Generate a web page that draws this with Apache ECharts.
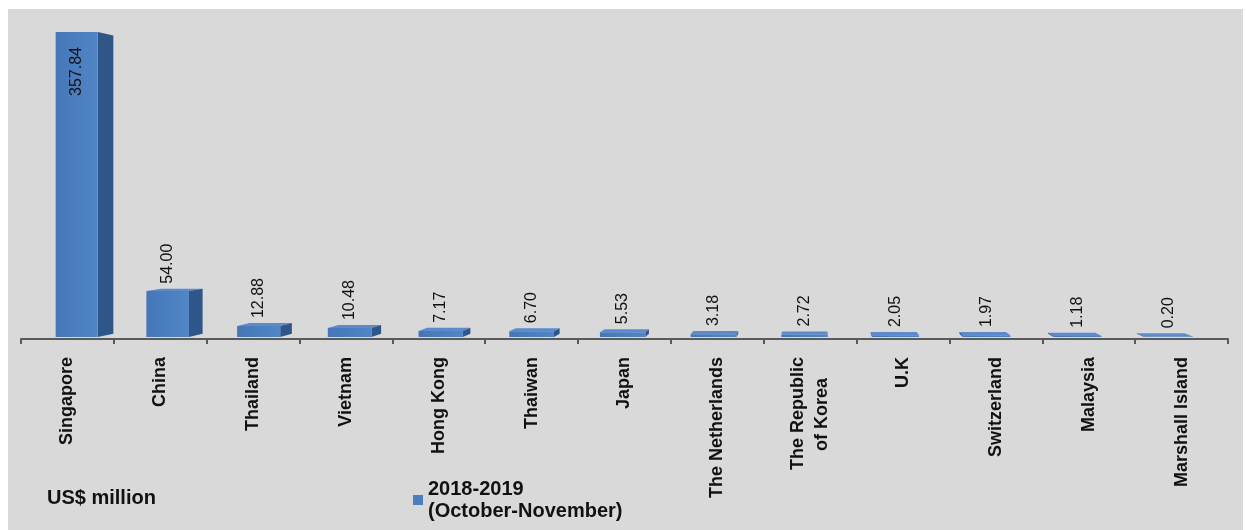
<!DOCTYPE html>
<html>
<head>
<meta charset="utf-8">
<script src="https://cdn.jsdelivr.net/npm/echarts@6/dist/echarts.min.js"></script>
<style>
  html, body { margin: 0; padding: 0; background: #ffffff; }
  #wrap { position: relative; width: 1246px; height: 530px; overflow: hidden; }
  #bg { position: absolute; left: 8px; top: 9px; width: 1235px; height: 521px; background: #d9d9d9; }
  #chart { position: absolute; left: 0; top: 0; width: 1246px; height: 530px; }
</style>
</head>
<body>
<div id="wrap"><div id="bg"></div><div id="chart"></div></div>
<script>
const categories = ['Singapore', 'China', 'Thailand', 'Vietnam', 'Hong Kong', 'Thaiwan', 'Japan',
  'The Netherlands', 'The Republic\nof Korea', 'U.K', 'Switzerland', 'Malaysia', 'Marshall Island'];
const values = [357.84, 54.00, 12.88, 10.48, 7.17, 6.70, 5.53, 3.18, 2.72, 2.05, 1.97, 1.18, 0.20];
const seriesName = '2018-2019\n(October-November)';
const unitLabel = 'US$ million';

const FONT = '"Liberation Sans", Arial, sans-serif';
const FRONT = '#4a7ebe', SIDE = '#2f5689', TOP = '#5b8bcc';

function renderItem(params, api) {
  const i = api.value(0), v = api.value(1);
  const p0 = api.coord([i, 0]), p1 = api.coord([i, v]);
  const c = p0[0];
  const cx = c + 0.02 * (530 - c);
  const w = 42 + 0.006 * (c - 67);
  const x0 = cx - w / 2, x1 = cx + w / 2;
  const yb = p0[1] - 2;
  const yt = Math.min(p1[1] - 2, yb - 0.5);
  const VX = 810, VY = 190, K = 0.022;
  const back = (x, y) => [x + K * (VX - x), y + K * (VY - y)];
  const fTL = [x0, yt], fTR = [x1, yt], fBL = [x0, yb], fBR = [x1, yb];
  const bTL = back(x0, yt), bTR = back(x1, yt), bBL = back(x0, yb), bBR = back(x1, yb);
  const children = [];
  if (yt > VY) children.push({ type: 'polygon', shape: { points: [fTL, fTR, bTR, bTL] }, style: { fill: TOP } });
  if (x1 < VX) children.push({ type: 'polygon', shape: { points: [fTR, fBR, bBR, bTR] }, style: { fill: SIDE } });
  if (x0 > VX) children.push({ type: 'polygon', shape: { points: [fTL, fBL, bBL, bTL] }, style: { fill: SIDE } });
  children.push({ type: 'rect', shape: { x: x0, y: yt, width: w, height: yb - yt },
    style: { fill: { type: 'linear', x: 0, y: 0, x2: 1, y2: 0,
      colorStops: [{ offset: 0, color: '#4577b8' }, { offset: 1, color: '#5085c6' }] } } });
  const inside = (yb - yt) > 80;
  const labelTop = Math.min(yt, bTL[1], bTR[1]);
  children.push({
    type: 'text', x: cx, y: inside ? yt + 15 : labelTop - 5, rotation: Math.PI / 2,
    style: { text: v.toFixed(2), font: '16px ' + FONT, fill: '#111',
      align: inside ? 'right' : 'left', verticalAlign: 'middle' }
  });
  return { type: 'group', children };
}

const chart = echarts.init(document.getElementById('chart'), null, { renderer: 'canvas' });
chart.setOption({
  backgroundColor: 'transparent',
  animation: false,
  grid: { left: 21, right: 18, top: 34, bottom: 191, containLabel: false },
  legend: {
    data: [seriesName], left: 413, top: 467, padding: 0,
    icon: 'rect', itemWidth: 10, itemHeight: 10,
    textStyle: { fontFamily: FONT, fontSize: 20, fontWeight: 'bold', color: '#111',
      lineHeight: 22, padding: [22, 0, 0, 0] }
  },
  graphic: [{
    type: 'text', left: 47, top: 488,
    style: { text: unitLabel, font: 'bold 20px ' + FONT, fill: '#111' }
  }],
  xAxis: {
    type: 'category', data: categories, boundaryGap: true,
    axisLine: { lineStyle: { color: '#5a5a5a', width: 2 } },
    axisTick: { show: true, length: 5, alignWithLabel: false, lineStyle: { color: '#5a5a5a', width: 2 } },
    axisLabel: {
      interval: 0, rotate: 90, margin: 18, fontFamily: FONT, fontSize: 18, fontWeight: 'bold', color: '#111',
      formatter: function (val) {
        if (val.indexOf('\n') < 0) return val;
        return val.split('\n').map((s, j) => '{' + (j ? 'b' : 'a') + '|' + s + '}').join('\n');
      },
      rich: {
        a: { fontFamily: FONT, fontSize: 18, fontWeight: 'bold', color: '#111', lineHeight: 24 },
        b: { fontFamily: FONT, fontSize: 18, fontWeight: 'bold', color: '#111', lineHeight: 24, padding: [0, 21, 0, 0] }
      }
    }
  },
  yAxis: { type: 'value', min: 0, max: 'dataMax', show: false, splitLine: { show: false } },
  series: [{
    type: 'custom', name: seriesName, renderItem: renderItem,
    itemStyle: { color: FRONT },
    encode: { x: 0, y: 1 },
    data: values.map((v, i) => [i, v]),
    clip: false
  }]
});
</script>
</body>
</html>
